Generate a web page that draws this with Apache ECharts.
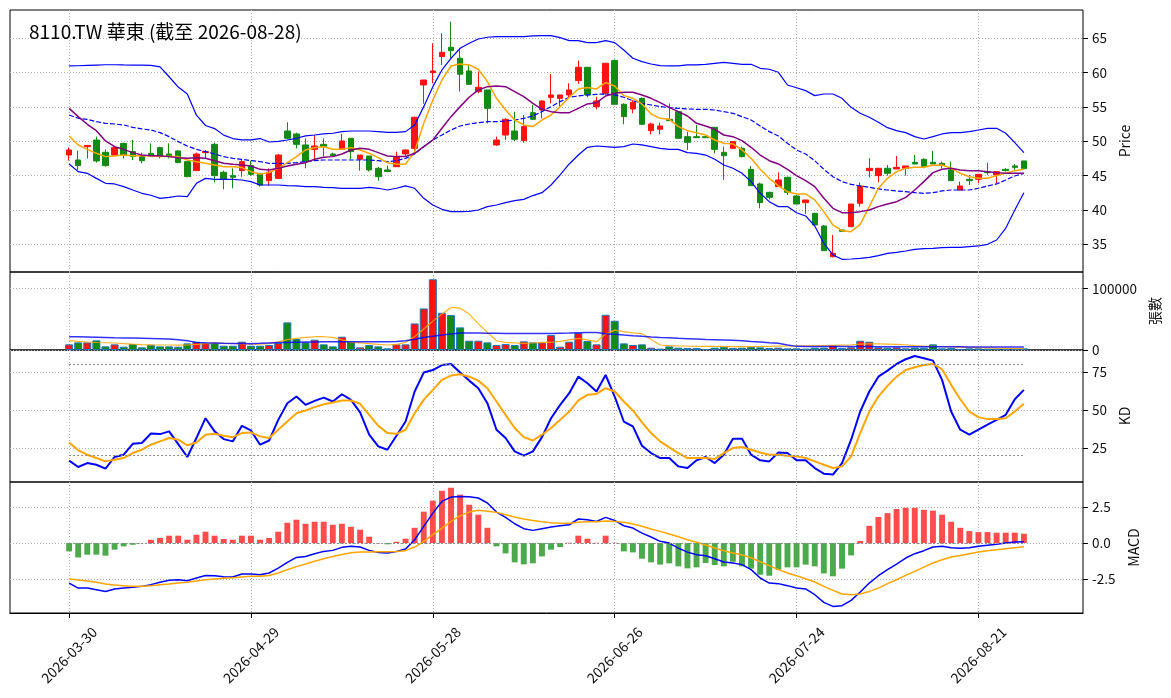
<!DOCTYPE html>
<html>
<head>
<meta charset="utf-8">
<script src="https://cdn.jsdelivr.net/npm/echarts@6/dist/echarts.min.js"></script>
<style>
  html, body { margin: 0; padding: 0; background: #fff; }
  #main { width: 1171px; height: 698px; }
</style>
</head>
<body>
<div id="main"></div>
<script>
// trading calendar (weekdays minus exchange holidays)
const holidays = ['2026-04-03', '2026-04-06', '2026-05-01', '2026-06-19'];
function tradingDays(start, count) {
  const out = [];
  const d = new Date(start + 'T00:00:00Z');
  while (out.length < count) {
    const s = d.toISOString().slice(0, 10);
    const wd = d.getUTCDay();
    if (wd !== 0 && wd !== 6 && holidays.indexOf(s) < 0) out.push(s);
    d.setUTCDate(d.getUTCDate() + 1);
  }
  return out;
}
const dates = tradingDays('2026-03-30', 106);

// price
const open = [48.0,47.28,49.22,50.19,48.4,48.0,49.7,48.5,47.77,48.25,49.08,48.15,48.6,47.04,45.73,48.35,49.56,45.49,45.0,45.73,46.46,45.34,44.27,44.6,
  51.5,51.07,49.47,48.83,49.56,48.15,48.83,50.44,47.38,47.86,46.07,45.83,46.3,48.15,48.98,58.2,60.0,62.33,63.69,62.09,60.24,57.23,57.48,49.47,50.92,51.5,50.1,54.17,
  54.56,56.4,56.26,56.75,58.83,60.78,55.05,56.99,61.75,55.39,54.7,56.26,51.55,51.75,53.2,54.32,50.68,50.68,50.68,52.04,48.4,48.98,48.98,45.92,43.79,42.57,43.4,44.76,42.04,
  41.07,39.51,37.67,33.2,37.09,37.57,40.97,45.73,45.0,46.07,45.97,46.07,46.94,47.38,46.94,46.8,45.83,42.91,44.47,44.47,45.58,45.1,45.92,46.41,47.14];
const close = [48.74,46.46,49.4,47.14,46.46,49.08,48.0,47.77,47.18,48.0,47.9,47.9,46.9,44.85,48.15,48.5,45.0,44.47,44.76,47.04,45.19,43.64,45.49,48.0,
  50.44,49.56,47.04,49.32,49.22,47.9,50.05,48.5,48.0,45.83,44.85,45.6,47.77,48.74,53.5,58.93,60.24,62.96,63.2,59.76,58.3,57.86,54.8,50.19,53.2,50.29,52.14,53.2,
  55.87,56.75,56.75,57.48,60.78,56.75,55.87,61.36,55.39,53.59,55.68,52.48,52.52,52.23,53.0,50.44,49.85,50.53,50.53,48.83,47.9,49.95,47.77,43.54,41.07,41.84,44.37,42.57,40.87,
  41.46,37.82,34.08,33.69,36.9,40.87,43.5,46.07,46.07,45.34,46.21,46.41,46.7,46.3,46.7,46.55,44.27,43.5,44.27,45.19,45.44,45.58,45.73,46.21,46.02];
const low = [47.2,45.83,47.5,46.89,46.3,47.9,47.5,47.28,46.8,47.77,47.5,47.5,46.8,44.85,45.73,47.5,44.03,43.0,43.16,44.85,45.0,43.4,43.55,44.6,
  50.3,48.98,46.07,47.28,47.77,47.77,48.74,47.38,45.73,45.6,44.27,45.5,46.3,47.77,48.15,55.5,58.45,61.12,62.09,57.23,58.2,57.0,52.62,49.32,50.19,50.05,49.8,53.1,
  53.35,55.5,55.05,56.4,58.35,56.4,54.66,56.75,55.3,52.48,54.08,52.38,51.0,51.0,53.0,50.34,48.74,50.53,50.5,48.25,44.37,48.98,47.67,43.54,40.24,41.55,43.4,42.18,40.87,
  39.42,37.82,34.08,33.1,36.8,37.57,40.48,44.76,44.03,45.0,45.97,45.0,46.7,46.07,46.7,46.07,44.27,42.8,43.64,43.88,45.1,43.88,45.6,45.83,46.02];
const high = [49.1,48.64,49.42,50.68,48.83,49.32,49.8,50.2,48.35,49.7,49.2,49.7,48.7,47.04,48.35,48.74,49.8,45.73,46.07,47.38,47.18,45.34,46.07,48.15,
  52.77,51.26,50.44,50.92,50.44,48.35,51.07,50.44,48.0,47.86,46.3,46.46,48.5,48.83,53.6,58.93,64.27,65.73,67.43,63.54,61.12,60.15,57.48,50.68,53.35,54.32,53.83,55.29,
  56.0,59.8,56.75,58.45,61.75,60.78,56.5,61.36,61.94,55.53,56.0,56.4,52.72,52.72,55.5,54.32,51.4,52.38,50.8,52.04,49.22,50.05,49.22,46.4,43.98,42.67,45.49,44.85,42.18,
  41.46,39.6,37.82,36.36,37.1,40.87,43.98,47.52,46.07,46.55,47.86,46.41,48.0,47.52,48.6,47.04,47.04,44.13,45.1,45.19,46.9,45.58,46.07,46.7,47.14];

// bollinger (20) and moving averages
const bbUpper = [60.97,61.0,61.05,61.1,61.15,61.15,61.12,61.1,61.1,61.05,60.85,59.4,57.9,56.9,53.8,52.3,51.85,50.9,50.4,50.2,50.2,50.4,49.9,50.0,
  50.19,50.44,50.78,50.92,51.07,51.17,51.41,51.5,51.5,51.5,51.41,51.31,51.31,51.41,52.38,55.05,57.96,60.39,62.09,63.54,64.27,64.9,65.15,65.24,65.24,65.24,65.24,65.34,
  65.39,65.39,65.1,64.66,64.66,64.37,64.37,64.66,64.37,63.3,62.09,61.6,61.26,61.02,60.97,60.97,61.12,61.12,61.21,61.36,61.5,61.36,61.21,61.21,60.63,60.49,60.05,58.2,57.8,
  57.38,56.65,56.89,56.89,56.26,54.95,54.08,53.5,52.77,51.99,51.55,51.26,50.68,50.34,50.68,51.07,51.26,51.26,51.41,51.65,51.89,51.89,51.17,49.81,48.35];
const bbMid = [53.83,53.35,53.2,52.86,52.62,52.52,52.38,52.04,51.8,51.65,51.26,50.68,49.95,49.32,48.83,48.5,48.15,47.77,47.52,47.38,47.18,47.04,46.8,46.8,
  46.8,46.89,47.04,47.18,47.28,47.28,47.28,47.28,47.28,47.28,47.18,47.04,47.18,47.52,48.15,49.22,50.19,50.92,51.65,52.23,52.52,52.72,52.86,52.86,52.96,53.1,53.35,53.69,
  54.32,55.05,55.78,56.41,56.6,56.75,56.84,56.89,56.75,56.41,55.92,55.53,55.29,55.05,54.9,54.8,54.71,54.66,54.66,54.56,54.32,54.08,53.59,53.1,52.23,51.41,50.78,49.71,48.74,
  48.16,47.18,45.92,44.85,44.13,43.74,43.5,43.3,43.06,42.91,42.77,42.67,42.52,42.43,42.52,42.77,42.91,42.91,42.91,43.16,43.5,43.79,44.37,44.95,45.34];
const bbLower = [46.7,45.58,45.34,44.6,43.88,43.79,43.4,42.91,42.43,42.14,41.7,41.84,42.04,41.94,43.88,44.6,44.47,44.47,44.47,44.37,44.13,43.64,43.64,43.64,
  43.54,43.5,43.4,43.4,43.3,43.25,43.16,43.16,43.16,43.3,43.16,42.91,43.16,43.5,43.16,41.7,40.73,40.1,39.76,39.76,39.81,40.0,40.49,40.73,41.07,41.36,41.55,42.1,
  42.52,43.64,45.1,46.7,48.0,49.13,49.32,49.22,49.13,49.22,49.61,49.47,49.22,48.98,48.83,48.83,48.35,48.25,48.0,47.38,46.55,46.07,45.34,44.13,42.43,41.21,40.49,40.49,39.6,
  39.13,37.67,35.15,33.45,32.82,32.86,32.96,33.11,33.35,33.69,33.83,34.03,34.27,34.37,34.42,34.51,34.56,34.56,34.66,34.76,35.0,35.63,37.33,40.0,42.52];
const ma5 = [50.78,49.47,48.83,48.25,47.77,47.86,48.0,47.9,47.9,47.86,47.77,47.77,47.77,47.28,47.04,46.8,46.55,46.31,46.31,46.17,45.58,45.24,45.44,46.07,
  46.89,47.77,48.74,49.08,49.22,48.83,48.83,49.08,48.74,48.25,47.62,46.89,46.65,46.7,48.5,52.62,56.02,58.93,60.97,61.26,61.12,60.49,58.69,56.26,54.56,53.1,52.38,52.14,
  53.1,53.83,55.05,56.41,57.62,57.82,57.62,58.54,58.06,56.65,56.26,55.44,53.98,53.35,53.2,52.14,51.55,51.26,50.92,50.19,49.71,49.61,48.74,47.52,45.92,44.61,43.5,42.67,42.33,
  42.33,41.46,39.76,37.82,36.99,36.84,37.91,40.49,43.16,44.61,45.58,46.07,46.21,46.21,46.5,46.55,46.07,45.34,44.85,44.61,44.61,45.0,45.34,45.73,45.92];
const ma10 = [54.8,53.59,52.48,51.55,50.05,49.22,48.83,48.35,48.0,47.9,47.9,47.77,47.62,47.52,47.62,47.52,47.18,46.8,46.65,46.55,46.41,45.92,45.83,46.07,
  46.41,46.65,46.89,47.38,47.67,47.77,48.15,48.74,48.98,48.83,48.35,47.86,47.77,47.77,48.25,49.22,50.19,51.89,53.59,55.05,56.41,57.48,57.96,58.06,57.96,57.23,56.5,55.53,
  54.66,54.32,54.17,54.17,54.8,55.44,55.63,56.6,56.99,57.14,57.14,56.75,56.26,55.63,54.95,54.32,53.69,52.62,52.23,51.75,50.92,50.68,50.1,49.13,48.0,47.18,46.7,45.92,45.0,
  44.27,43.4,41.7,40.24,39.61,39.61,39.76,40.0,40.49,40.87,41.21,41.84,42.91,44.13,45.44,45.92,46.07,45.83,45.73,45.73,45.58,45.44,45.34,45.34,45.34];

// volume (張)
const volume = [9200,12400,12400,15700,5900,9200,5400,9700,4300,8600,5900,5900,5400,10800,13500,11400,11400,7000,7000,13500,7000,7000,8100,11400,
  44900,17800,12400,16800,9200,5900,21600,13500,4300,8100,5900,2700,9200,9200,43200,67600,115100,60500,56800,36800,15100,15100,12400,8100,9700,8100,14100,12400,
  12400,24300,5400,13500,27600,14600,9200,57300,47600,10800,8100,9200,3800,2200,5900,3800,3200,3200,1600,3800,5400,3200,3800,4900,4300,3200,3800,2700,2700,
  2200,3800,3800,7600,3200,4300,15100,13500,4300,3800,4300,2700,3800,3800,9200,2700,3200,1600,2700,2700,2200,2200,1600,2200,2700];
const volMa5 = [15100,14000,13000,12200,11800,11400,10500,9600,8800,8400,8100,8100,8000,8100,9000,10300,11400,11000,10600,10000,9700,
  9500,10500,13200,16800,19000,20500,21600,21600,20500,16500,12400,11500,10500,9200,8100,9000,12400,22000,34100,47000,
  58400,69200,68100,58400,43000,28600,15100,12500,11500,10800,11400,12500,12500,14100,16500,18900,16500,13500,25900,32400,
  30000,28000,26500,17000,8100,7000,6500,6200,6000,5900,5800,5600,5500,5400,5500,5700,6000,6300,6500,6700,
  6800,7000,7000,7500,8000,8500,9700,9900,9900,9700,9200,8500,7000,6200,5900,5500,5200,4800,4400,3800,3400,3000,2700,2400,2200];
const volMa20 = [21600,21400,21100,20800,20500,20000,19700,19400,19000,18600,18200,17800,16500,15100,12400,11800,11400,11000,10700,10500,10300,
  10800,11400,12000,12400,12800,13000,13200,13300,13400,13500,13500,13500,13500,13500,13500,14000,15100,17500,20500,22500,
  24300,26000,27600,27800,27600,27400,27200,27000,27000,27000,27000,27000,27000,27300,27600,28000,28400,28600,26500,25500,
  24300,23200,22200,21300,20500,19800,19000,18400,17800,17200,16700,16200,15700,15100,14000,13000,11800,10800,8300,5900,
  5800,5700,5700,5600,5600,5500,5500,5500,5400,5400,5400,5300,5300,5200,5200,5200,5100,5100,5000,5000,5000,4900,4900,4900,4900];

// KD
const kLine = [16.7,12.5,15.1,14.0,11.4,19.1,20.6,27.8,28.3,34.6,34.2,36.0,27.6,19.1,31.6,44.7,36.0,30.9,29.4,39.7,36.6,27.2,30.0,43.6,
  54.6,59.0,53.5,56.1,58.3,55.7,60.5,56.8,48.5,33.8,26.1,23.9,33.1,42.5,62.3,74.8,76.5,79.8,80.5,74.8,69.5,64.5,54.6,37.1,31.6,22.8,20.0,22.8,
  32.2,44.7,53.5,61.2,72.1,67.8,62.3,73.2,59.0,42.5,39.3,26.5,21.7,18.4,18.4,12.9,11.8,16.9,19.1,15.1,20.6,31.1,31.1,20.6,16.9,16.2,22.1,21.7,16.9,
  16.9,11.8,8.1,7.5,15.1,30.5,49.1,62.3,72.1,76.1,80.5,83.6,85.7,84.2,82.7,70.0,49.1,37.1,33.8,37.1,40.4,43.6,46.9,57.2,63.4];
const dLine = [28.7,23.5,20.6,18.4,16.2,17.3,18.4,21.7,23.9,27.2,29.4,31.6,30.5,26.8,28.7,33.8,34.4,33.1,32.2,34.9,35.3,32.7,31.6,37.1,
  42.5,48.0,49.8,52.0,53.9,55.0,56.4,56.4,54.2,46.9,39.7,34.9,34.4,37.1,48.0,56.8,63.4,70.0,72.8,73.7,72.1,69.5,64.5,55.7,46.9,38.2,32.2,30.0,
  33.8,38.2,43.6,49.1,56.4,60.1,60.7,64.5,62.3,55.7,49.8,41.9,34.9,29.4,25.4,21.7,18.4,18.4,18.4,17.8,21.7,25.0,25.7,23.9,22.1,20.6,20.6,20.0,19.5,
  18.4,16.2,14.0,11.8,12.9,19.5,34.9,49.1,59.0,66.0,72.1,76.5,78.3,79.8,80.5,77.0,66.7,57.2,49.1,45.4,44.1,44.1,44.7,49.1,54.2];

// MACD
const macdHist = [-0.58,-1.0,-0.81,-0.81,-0.88,-0.46,-0.23,-0.12,-0.01,0.23,0.35,0.51,0.51,0.23,0.58,0.79,0.51,0.28,0.23,0.51,0.51,0.23,0.35,0.79,
  1.41,1.62,1.34,1.48,1.48,1.27,1.34,1.13,0.93,0.44,0.0,-0.09,0.09,0.30,1.06,2.18,2.94,3.63,3.84,3.36,2.66,1.97,1.06,-0.23,-0.72,-1.34,-1.48,-1.41,
  -0.93,-0.46,-0.28,0.02,0.51,0.30,0.02,0.51,0.02,-0.58,-0.65,-1.09,-1.34,-1.5,-1.41,-1.62,-1.76,-1.69,-1.39,-1.53,-1.62,-1.3,-1.62,-1.78,-2.2,-2.27,-1.85,-1.69,-1.69,
  -1.5,-1.62,-2.11,-2.31,-1.78,-0.86,0.14,1.2,1.81,2.08,2.36,2.45,2.45,2.31,2.25,1.97,1.48,1.06,0.83,0.76,0.76,0.72,0.72,0.72,0.65];
const dif = [-2.78,-3.13,-3.13,-3.24,-3.36,-3.19,-3.13,-3.08,-3.01,-2.89,-2.73,-2.59,-2.55,-2.62,-2.43,-2.25,-2.27,-2.34,-2.36,-2.15,-2.15,-2.2,-2.08,-1.74,
  -1.34,-1.0,-0.93,-0.74,-0.58,-0.51,-0.3,-0.23,-0.28,-0.51,-0.65,-0.69,-0.58,-0.42,0.23,1.16,2.08,2.89,3.19,3.24,3.22,3.13,2.78,2.15,1.78,1.34,1.0,0.88,
  1.0,1.11,1.2,1.27,1.67,1.62,1.5,1.78,1.57,1.2,1.04,0.69,0.42,0.12,0.0,-0.35,-0.63,-0.81,-0.88,-1.09,-1.32,-1.39,-1.5,-1.85,-2.43,-2.78,-2.82,-2.96,-3.13,
  -3.19,-3.59,-4.12,-4.4,-4.35,-3.98,-3.4,-2.78,-2.27,-1.85,-1.46,-1.04,-0.74,-0.53,-0.28,-0.23,-0.32,-0.37,-0.32,-0.23,-0.16,-0.09,0.0,0.07,0.09];
const dea = [-2.5,-2.57,-2.64,-2.73,-2.85,-2.92,-2.96,-3.01,-3.01,-2.96,-2.89,-2.85,-2.78,-2.73,-2.64,-2.55,-2.5,-2.45,-2.41,-2.36,-2.31,-2.31,-2.25,-2.08,
  -1.85,-1.64,-1.46,-1.27,-1.09,-0.93,-0.79,-0.67,-0.63,-0.63,-0.6,-0.6,-0.58,-0.53,-0.28,0.12,0.58,1.04,1.5,1.9,2.15,2.27,2.2,2.13,1.97,1.81,1.67,1.57,
  1.48,1.41,1.37,1.37,1.44,1.48,1.48,1.53,1.5,1.44,1.32,1.16,0.97,0.81,0.63,0.44,0.23,0.05,-0.14,-0.35,-0.53,-0.69,-0.83,-1.02,-1.3,-1.57,-1.85,-2.08,-2.27,
  -2.48,-2.71,-3.01,-3.29,-3.54,-3.59,-3.54,-3.36,-3.13,-2.82,-2.55,-2.25,-1.97,-1.67,-1.39,-1.16,-0.97,-0.86,-0.74,-0.63,-0.53,-0.46,-0.39,-0.32,-0.25];

const UP = '#ff1212';
const DOWN = '#138a13';
const FONT = '"Noto Sans CJK TC", "Noto Sans", sans-serif';
const PAD = 6;   // empty slots either side of the data, like matplotlib's x margins
const last = dates.length - 1;

const cats = [];
for (let i = 0; i < PAD; i++) cats.push('L' + i);
dates.forEach(d => cats.push(d));
for (let i = 0; i < PAD; i++) cats.push('R' + i);

const isTick = idx => idx >= PAD && idx <= PAD + last && (idx - PAD) % 20 === 0;
const pad = arr => Array(PAD).fill('-').concat(arr);

const candles = pad(dates.map((d, i) => [open[i], close[i], low[i], high[i]]));
for (let i = 0; i < PAD; i++) candles[i] = ['-', '-', '-', '-'];
const volBars = pad(volume.map((v, i) => ({
  value: v, itemStyle: { color: close[i] >= open[i] ? UP : DOWN }
})));
const histBars = pad(macdHist.map(v => ({
  value: v, itemStyle: { color: v >= 0 ? '#ff4d4d' : '#4caa4c' }
})));

const grids = [
  { left: 10, right: 88, top: 10, height: 262 },
  { left: 10, right: 88, top: 272, height: 78 },
  { left: 10, right: 88, top: 350, height: 132 },
  { left: 10, right: 88, top: 482, height: 131 }
].map(g => Object.assign(g, { show: true, borderColor: '#000', borderWidth: 1 }));

const gridLine = { color: '#b0b0b0', width: 1, type: [1, 2] };

function xAxisFor(g) {
  const bottom = g === 3;
  return {
    type: 'category', gridIndex: g, data: cats, boundaryGap: true,
    axisLine: { show: bottom, onZero: false, lineStyle: { color: '#000' } },
    axisTick: { show: bottom, interval: isTick, alignWithLabel: true, length: 5, lineStyle: { color: '#000' } },
    axisLabel: {
      show: bottom, interval: isTick, rotate: 45, align: 'center', verticalAlign: 'middle',
      margin: 42, fontSize: 14, color: '#111', fontFamily: FONT
    },
    splitLine: { show: true, interval: isTick, alignWithLabel: true, lineStyle: gridLine }
  };
}

function yAxisFor(g, o) {
  return {
    type: 'value', gridIndex: g, position: 'right', scale: true,
    min: o.min, max: o.max, minInterval: o.step, maxInterval: o.step, splitNumber: o.split,
    axisLine: { show: false },
    axisTick: { show: true, length: 5, lineStyle: { color: '#000' }, customValues: o.ticks },
    axisLabel: {
      customValues: o.ticks,
      margin: 9, fontSize: 13.5, color: '#111', fontFamily: FONT, formatter: o.fmt
    },
    splitLine: { show: true, lineStyle: gridLine },
    name: o.name, nameLocation: 'middle', nameGap: o.gap,
    nameTextStyle: { fontSize: 14, color: '#111', fontFamily: FONT }
  };
}

const refLine = (v) => [{ coord: [dates[0], v] }, { coord: [dates[last], v] }];
const refStyle = { silent: true, symbol: 'none', label: { show: false },
  lineStyle: { color: '#8c8c8c', width: 1, type: [2, 2] } };

function line(name, data, x, y, color, width, extra) {
  return Object.assign({
    name, type: 'line', xAxisIndex: x, yAxisIndex: y, data: pad(data),
    symbol: 'none', z: 3, lineStyle: { color, width }, itemStyle: { color }
  }, extra || {});
}

const option = {
  animation: false,
  backgroundColor: '#fff',
  textStyle: { fontFamily: FONT },
  title: {
    text: '8110.TW 華東 (截至 2026-08-28)', left: 24, top: 17,
    textStyle: { fontSize: 19, fontWeight: 'normal', color: '#000', fontFamily: FONT }
  },
  grid: grids,
  xAxis: [0, 1, 2, 3].map(xAxisFor),
  yAxis: [
    yAxisFor(0, { min: 30.97, max: 69.12, step: 5, split: 7, ticks: [35, 40, 45, 50, 55, 60, 65], name: 'Price', gap: 30, fmt: v => String(v) }),
    yAxisFor(1, { min: 0, max: 126900, step: 100000, split: 1, ticks: [0, 100000], name: '張數', gap: 62, fmt: v => String(v) }),
    yAxisFor(2, { min: 2.6, max: 89.7, step: 25, split: 3, ticks: [25, 50, 75], name: 'KD', gap: 30, fmt: v => String(v) }),
    yAxisFor(3, { min: -4.86, max: 4.24, step: 2.5, split: 3, ticks: [-2.5, 0, 2.5], name: 'MACD', gap: 41, fmt: v => v.toFixed(1) })
  ],
  series: [
    {
      name: 'K', type: 'candlestick', xAxisIndex: 0, yAxisIndex: 0, data: candles, barWidth: 6, z: 2,
      itemStyle: { color: UP, color0: DOWN, borderColor: UP, borderColor0: DOWN, borderWidth: 1 }
    },
    line('BB上軌', bbUpper, 0, 0, '#0000ff', 1.2),
    line('BB中軌', bbMid, 0, 0, '#0000ff', 1.2, { lineStyle: { color: '#0000ff', width: 1.2, type: [5, 2] } }),
    line('BB下軌', bbLower, 0, 0, '#0000ff', 1.2),
    line('MA5', ma5, 0, 0, '#ffa500', 1.5),
    line('MA10', ma10, 0, 0, '#800080', 1.5),

    {
      name: '張數', type: 'bar', xAxisIndex: 1, yAxisIndex: 1, data: volBars, barWidth: '88%',
      itemStyle: { borderColor: '#1f77b4', borderWidth: 1 }
    },
    line('VMA5', volMa5, 1, 1, '#ffa500', 1.2, { lineStyle: { color: '#ffa500', width: 1.2, opacity: 0.85 } }),
    line('VMA20', volMa20, 1, 1, '#0000ff', 1.5, { lineStyle: { color: '#0000ff', width: 1.5, opacity: 0.8 } }),

    line('K值', kLine, 2, 2, '#0000ff', 2, {
      markLine: Object.assign({ data: [refLine(80), refLine(20)] }, refStyle)
    }),
    line('D值', dLine, 2, 2, '#ffa500', 2),

    {
      name: 'MACD', type: 'bar', xAxisIndex: 3, yAxisIndex: 3, data: histBars, barWidth: '65%',
      markLine: Object.assign({ data: [refLine(0)] }, refStyle)
    },
    line('DIF', dif, 3, 3, '#0000ff', 1.5),
    line('DEA', dea, 3, 3, '#ffa500', 1.5)
  ]
};

const chart = echarts.init(document.getElementById('main'));
chart.setOption(option);
</script>
</body>
</html>
